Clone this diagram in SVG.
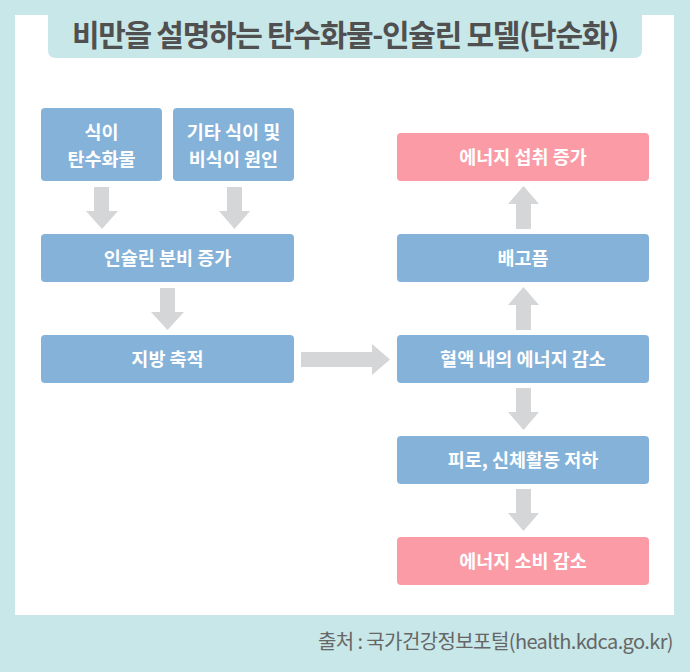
<svg xmlns="http://www.w3.org/2000/svg" width="690" height="672" viewBox="0 0 690 672">
<style>
.blue{fill:#85b2d9}
.pink{fill:#fa9ba6}
.lbl{font-family:"Noto Sans CJK KR","Noto Sans",sans-serif;font-weight:bold;font-size:18.5px;fill:#ffffff;text-anchor:middle}
.arr{fill:#d5d6d8}
</style>
<rect x="0" y="0" width="690" height="672" fill="#c8e7e9"/>
<rect x="15" y="15" width="659" height="600" fill="#ffffff"/>
<path d="M48 15 H642 V50 Q642 58 634 58 H56 Q48 58 48 50 Z" fill="#c8e7e9"/>
<text x="345" y="46" font-family="'Noto Sans CJK KR','Noto Sans',sans-serif" font-weight="bold" font-size="30" fill="#505050" text-anchor="middle" letter-spacing="-1.3">비만을 설명하는 탄수화물-인슐린 모델(단순화)</text>

<g id="connectors">
<path class="arr" d="M94 187 H109 V211 H118 L102 229 L86 211 H94 Z"/>
<path class="arr" d="M227 187 H242 V211 H250 L234.5 229 L219 211 H227 Z"/>
<path class="arr" d="M160 288 H175 V312 H184 L167.5 330 L151 312 H160 Z"/>
<path class="arr" d="M301 352 H372 V344 L390 359.5 L372 375 V367 H301 Z"/>
<path class="arr" d="M516 229 H531 V204 H539 L523.5 186 L508 204 H516 Z"/>
<path class="arr" d="M516 330 H531 V305 H539 L523.5 287 L508 305 H516 Z"/>
<path class="arr" d="M516 388 H531 V412 H539 L523.5 430 L508 412 H516 Z"/>
<path class="arr" d="M516 489 H531 V513 H539 L523.5 531 L508 513 H516 Z"/>
</g>

<g id="n1"><rect class="blue" x="41" y="108" width="121" height="73" rx="4"/><text class="lbl" x="101.5" y="139">식이</text><text class="lbl" x="101.5" y="166">탄수화물</text></g>
<g id="n2"><rect class="blue" x="173" y="108" width="121" height="73" rx="4"/><text class="lbl" x="233.5" y="139">기타 식이 및</text><text class="lbl" x="233.5" y="166">비식이 원인</text></g>
<g id="n3"><rect class="blue" x="41" y="234" width="253" height="48" rx="4"/><text class="lbl" x="167.5" y="265">인슐린 분비 증가</text></g>
<g id="n4"><rect class="blue" x="41" y="335" width="253" height="48" rx="4"/><text class="lbl" x="167.5" y="366">지방 축적</text></g>
<g id="n5"><rect class="pink" x="397" y="133" width="252" height="48" rx="4"/><text class="lbl" x="523" y="164">에너지 섭취 증가</text></g>
<g id="n6"><rect class="blue" x="397" y="234" width="252" height="48" rx="4"/><text class="lbl" x="523" y="265">배고픔</text></g>
<g id="n7"><rect class="blue" x="397" y="335" width="252" height="48" rx="4"/><text class="lbl" x="523" y="366">혈액 내의 에너지 감소</text></g>
<g id="n8"><rect class="blue" x="397" y="436" width="252" height="48" rx="4"/><text class="lbl" x="523" y="467">피로, 신체활동 저하</text></g>
<g id="n9"><rect class="pink" x="397" y="537" width="252" height="48" rx="4"/><text class="lbl" x="523" y="568">에너지 소비 감소</text></g>

<text x="673" y="649" font-family="'Noto Sans CJK KR','Noto Sans',sans-serif" font-size="20" fill="#666666" text-anchor="end" letter-spacing="-0.6">출처 : 국가건강정보포털(health.kdca.go.kr)</text>
</svg>
